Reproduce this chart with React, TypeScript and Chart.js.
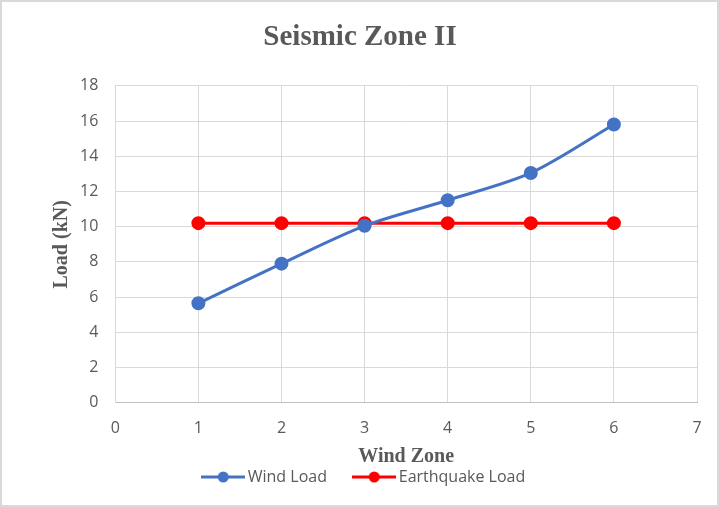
import React, { useEffect, useRef } from "react";
import { Chart, registerables } from "chart.js";

Chart.register(...registerables);

const windZones = [1, 2, 3, 4, 5, 6];
const windLoad = [5.65, 7.9, 10.05, 11.5, 13.05, 15.8];
const earthquakeLoad = [10.2, 10.2, 10.2, 10.2, 10.2, 10.2];
const seriesNames = ["Wind Load", "Earthquake Load"];
const seriesColors = ["#4472C4", "#FF0000"];

function legendIcon(color: string): HTMLCanvasElement {
  const c = document.createElement("canvas");
  c.width = 44;
  c.height = 12;
  const ctx = c.getContext("2d")!;
  ctx.strokeStyle = color;
  ctx.lineWidth = 3;
  ctx.beginPath();
  ctx.moveTo(0, 6);
  ctx.lineTo(44, 6);
  ctx.stroke();
  ctx.fillStyle = color;
  ctx.beginPath();
  ctx.arc(22, 6, 5.5, 0, Math.PI * 2);
  ctx.fill();
  return c;
}

const borderPlugin = {
  id: "outerBorder",
  afterLayout(chart: any) {
    if (chart.legend) {
      chart.legend.left += 6;
      chart.legend.right += 6;
    }
  },
  afterDraw(chart: any) {
    const { ctx, width, height } = chart;
    ctx.save();
    ctx.strokeStyle = "#d9d9d9";
    ctx.lineWidth = 2;
    ctx.strokeRect(1, 1, width - 2, height - 2);
    ctx.restore();
  },
};

export default function App() {
  const ref = useRef<HTMLCanvasElement>(null);
  useEffect(() => {
    document.body.style.margin = "0";
    const icons = seriesColors.map(legendIcon);
    const chart = new Chart(ref.current!, {
      type: "line",
      data: {
        datasets: [
          {
            label: seriesNames[0],
            data: windZones.map((x, i) => ({ x, y: windLoad[i] })),
            borderColor: seriesColors[0],
            backgroundColor: seriesColors[0],
            borderWidth: 3,
            pointRadius: 5.5,
            pointHoverRadius: 5.5,
            tension: 0.3,
          },
          {
            label: seriesNames[1],
            data: windZones.map((x, i) => ({ x, y: earthquakeLoad[i] })),
            borderColor: seriesColors[1],
            backgroundColor: seriesColors[1],
            borderWidth: 3,
            pointRadius: 5.5,
            pointHoverRadius: 5.5,
            tension: 0,
          },
        ],
      },
      options: {
        responsive: false,
        animation: false,
        layout: { padding: { left: 23, right: 22, top: 0, bottom: 12 } },
        scales: {
          x: {
            type: "linear",
            min: 0,
            max: 7,
            ticks: {
              stepSize: 1,
              padding: 16,
              color: "#595959",
              font: { family: "Open Sans", size: 16 },
            },
            grid: { color: "#d9d9d9", lineWidth: 1, drawTicks: false },
            border: { color: "#bfbfbf", width: 1 },
            title: {
              display: true,
              text: "Wind Zone",
              color: "#595959",
              font: { family: "Liberation Serif", size: 20, weight: "bold" },
              padding: { top: -9, bottom: -10 },
            },
          },
          y: {
            min: 0,
            max: 18,
            ticks: {
              stepSize: 2,
              padding: 17,
              color: "#595959",
              font: { family: "Open Sans", size: 16 },
            },
            grid: { color: "#d9d9d9", lineWidth: 1, drawTicks: false },
            border: { color: "#d9d9d9", width: 1 },
            title: {
              display: true,
              text: "Load (kN)",
              color: "#595959",
              font: { family: "Liberation Serif", size: 20, weight: "bold" },
              padding: { top: 27, bottom: -11 },
            },
          },
        },
        plugins: {
          title: {
            display: true,
            text: "Seismic Zone II",
            color: "#595959",
            font: { family: "Liberation Serif", size: 29, weight: "bold" },
            padding: { top: 20, bottom: 31 },
          },
          tooltip: { enabled: false },
          legend: {
            position: "bottom",
            labels: {
              usePointStyle: true,
              pointStyleWidth: 33,
              padding: 10,
              color: "#595959",
              font: { family: "Open Sans", size: 16 },
              generateLabels: (c: any) =>
                Chart.defaults.plugins.legend.labels
                  .generateLabels(c)
                  .map((l: any, i: number) => ({
                    ...l,
                    text: i === 0 ? l.text + "     " : l.text,
                    pointStyle: icons[i],
                  })),
            },
          },
        },
      },
      plugins: [borderPlugin],
    });
    return () => chart.destroy();
  }, []);
  return (
    <div style={{ width: 719, height: 507, background: "#fff" }}>
      <canvas ref={ref} width={719} height={507} />
    </div>
  );
}
